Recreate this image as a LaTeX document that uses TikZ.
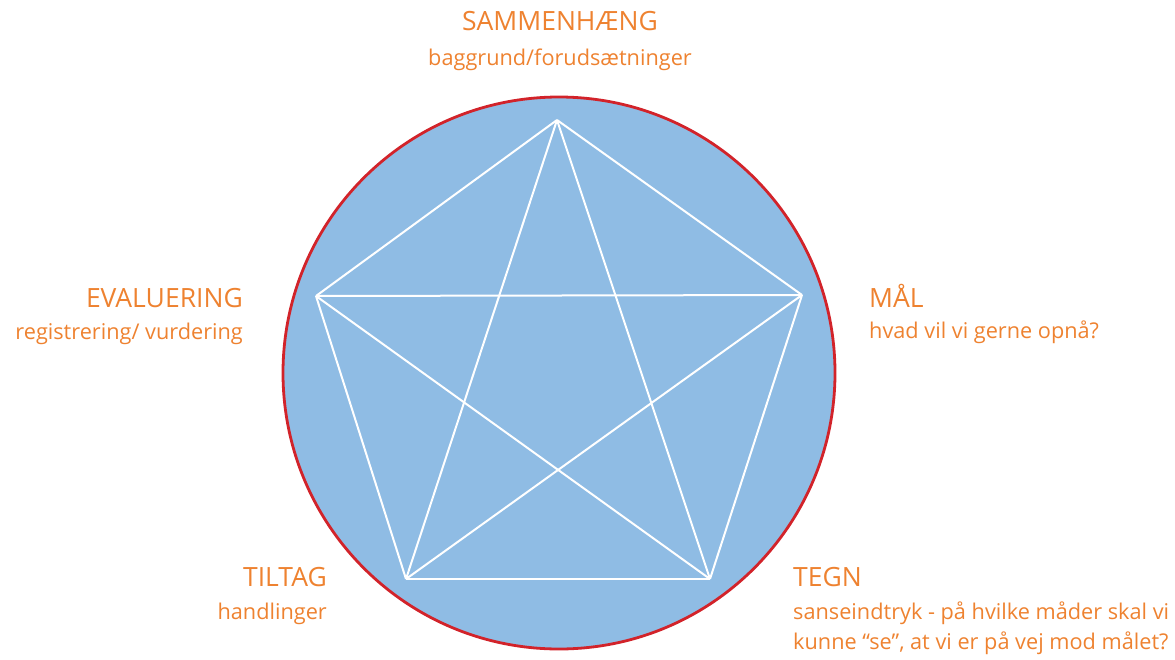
\documentclass[tikz,border=0pt]{standalone}
\usepackage{fontspec}
\setmainfont{Open Sans}
\usetikzlibrary{positioning}
\definecolor{labelorange}{RGB}{238,130,48}
\definecolor{discblue}{RGB}{143,188,228}
\definecolor{rimred}{RGB}{210,35,42}

\begin{document}
\begin{tikzpicture}[
    x=1pt, y=-1pt,
    head/.style={text=labelorange, font=\fontsize{26.5}{30}\selectfont, inner sep=0pt},
    sub/.style={text=labelorange, font=\fontsize{21.7}{30}\selectfont, inner sep=0pt},
    disc/.style={fill=discblue, draw=rimred, line width=2.8pt},
    chord/.style={draw=white, line width=2pt, line join=round}
]
    \useasboundingbox (0,0) rectangle (1175,659);

    \node[disc, circle, minimum size=552pt, inner sep=0pt] (disc) at (559,373) {};

    % hjoerner i femkanten
    \coordinate (top) at (557,120);
    \coordinate (right) at (802,295);
    \coordinate (left) at (316,296);
    \coordinate (bright) at (710,579);
    \coordinate (bleft) at (406,579);

    \foreach \a/\b in {top/right, right/bright, bright/bleft, bleft/left, left/top,
                       top/bright, top/bleft, left/right, left/bright, right/bleft}
        \draw[chord] (\a) -- (\b);

    % top
    \node[head, anchor=base] (samh) at (560,30) {SAMMENHÆNG};
    \node[sub, anchor=base] (samhsub) at (560,65) {baggrund/forudsætninger};

    % venstre
    \node[head, anchor=base east] (eval) at (243,307) {EVALUERING};
    \node[sub, anchor=base east] (evalsub) at (243,339) {registrering/ vurdering};

    % hoejre
    \node[head, anchor=base west] (maal) at (869,307) {MÅL};
    \node[sub, anchor=base west] (maalsub) at (869,338) {hvad vil vi gerne opnå?};

    % nederst venstre
    \node[head, anchor=base east] (tilt) at (327,586) {TILTAG};
    \node[sub, anchor=base east] (tiltsub) at (327,619) {handlinger};

    % nederst hoejre
    \node[head, anchor=base west] (tegn) at (793,586) {TEGN};
    \node[sub, anchor=base west] (tegnsub) at (793,619) {sanseindtryk - på hvilke måder skal vi};
    \node[sub, anchor=base west] (tegnsub2) at (793,649) {kunne “se”, at vi er på vej mod målet?};
\end{tikzpicture}
\end{document}
